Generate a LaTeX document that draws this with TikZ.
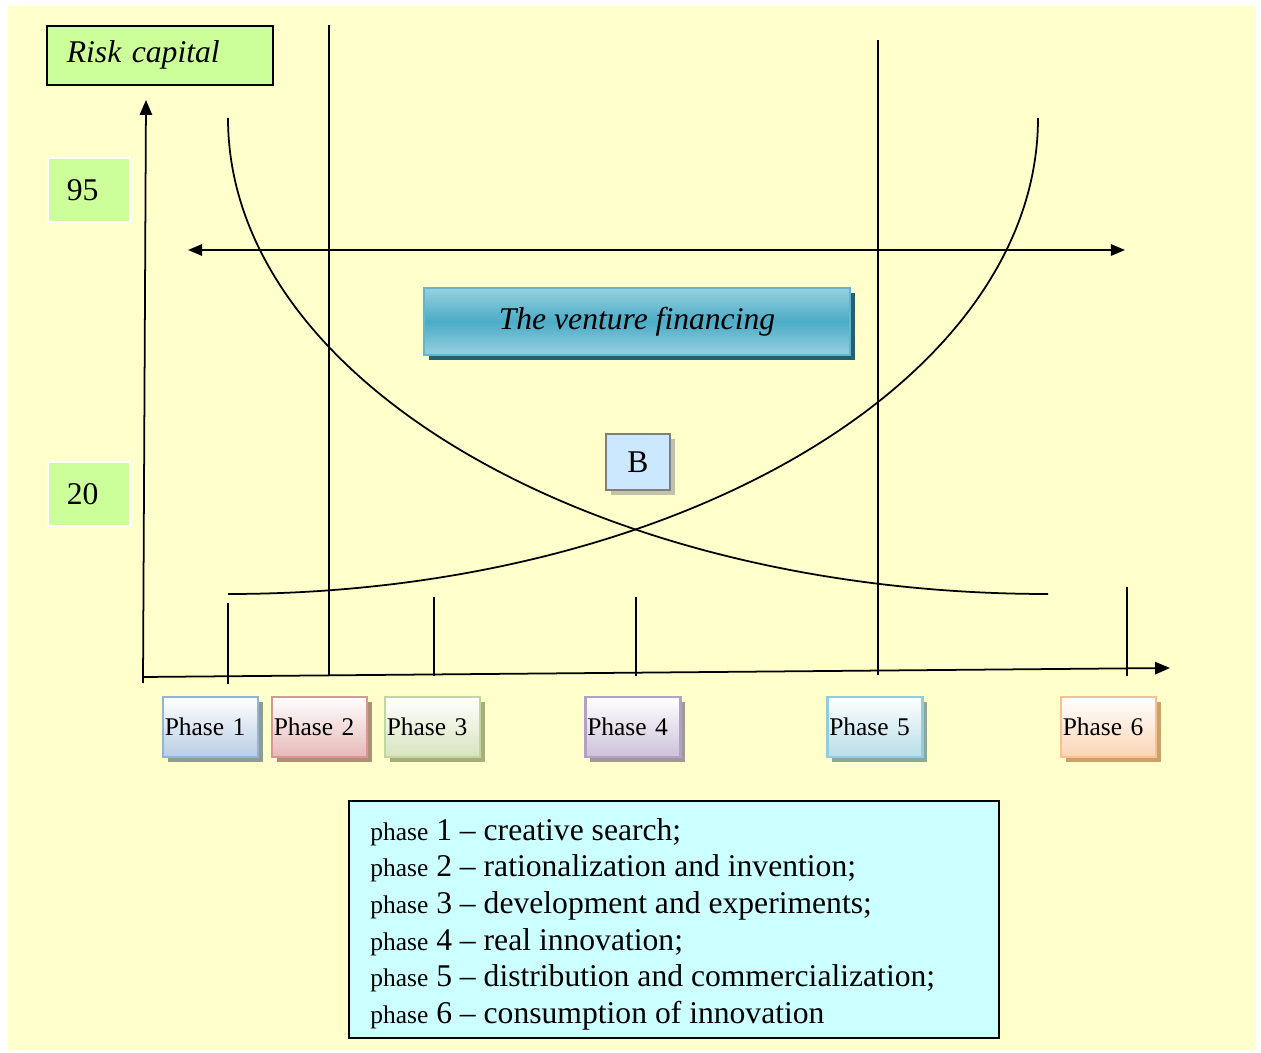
\documentclass[tikz,border=0pt]{standalone}
\usepackage{fontspec}
\setmainfont{Liberation Serif}
\usetikzlibrary{arrows.meta,shadows}
\definecolor{paper}{HTML}{FFFFCC}
\definecolor{lime}{HTML}{CCFF99}
\definecolor{aqua}{HTML}{CCFFFF}
\definecolor{ventlight}{HTML}{98D0DF}
\definecolor{ventdark}{HTML}{4BACC6}
\definecolor{ventedge}{HTML}{5FB8D2}
\definecolor{ventshade}{HTML}{275F6E}
\definecolor{bfill}{HTML}{CCE8FF}
\definecolor{bedge}{HTML}{7F7F7F}
\definecolor{bshade}{HTML}{C2C2A8}
\definecolor{phline1}{HTML}{95B3D7}
\definecolor{phline2}{HTML}{D99694}
\definecolor{phline3}{HTML}{C3D69B}
\definecolor{phline4}{HTML}{B2A1C7}
\definecolor{phline5}{HTML}{93CDDD}
\definecolor{phline6}{HTML}{FAC090}
\definecolor{phfill1}{HTML}{B9CDE5}
\definecolor{phfill2}{HTML}{E6B9B8}
\definecolor{phfill3}{HTML}{D7E4BD}
\definecolor{phfill4}{HTML}{CCC1DA}
\definecolor{phfill5}{HTML}{B7DEE8}
\definecolor{phfill6}{HTML}{FCD5B5}
\definecolor{phshade1}{HTML}{8E9C92}
\definecolor{phshade2}{HTML}{B08E78}
\definecolor{phshade3}{HTML}{A6AE7C}
\definecolor{phshade4}{HTML}{9F9A92}
\definecolor{phshade5}{HTML}{8CA89C}
\definecolor{phshade6}{HTML}{C9A26A}
\newcommand{\bigfont}{\fontsize{18}{20.8}\selectfont}
\newcommand{\phfont}{\fontsize{14.5}{20.8}\selectfont}
\tikzset{
    axisline/.style={black, line width=1pt, -{Triangle[length=8.5pt,width=7pt]}},
    rule/.style={black, line width=1pt},
    hypcurve/.style={black, line width=1pt},
    riskbox/.style={draw=black, line width=1pt, fill=lime, anchor=north west,
        minimum height=1.18cm, inner xsep=0.4cm, text width=3.72cm, align=left,
        font=\bigfont\itshape},
    numbox/.style={draw=white, line width=1pt, fill=lime, anchor=north west,
        minimum height=1.28cm, inner xsep=0.38cm, text width=0.88cm, align=left,
        font=\bigfont},
    ventbox/.style={draw=ventedge, line width=1pt, top color=ventlight,
        bottom color=ventlight, middle color=ventdark,
        minimum width=8.52cm, minimum height=1.34cm, font=\bigfont\itshape,
        drop shadow={fill=ventshade, opacity=1, shadow xshift=2.6pt, shadow yshift=-2.8pt}},
    bbox/.style={draw=bedge, line width=1.5pt, fill=bfill,
        minimum width=1.28cm, minimum height=1.12cm, font=\bigfont,
        drop shadow={fill=bshade, opacity=1, shadow xshift=2.6pt, shadow yshift=-2.8pt}},
    phasebox/.style={line width=1.5pt, top color=white, minimum height=1.2cm,
        inner xsep=1pt, text width=1.83cm, align=left, font=\phfont},
    legendbox/.style={draw=black, line width=1pt, fill=aqua,
        minimum width=13cm, minimum height=4.74cm},
    legendtext/.style={anchor=base west, inner sep=0pt, font=\bigfont}
}

\begin{document}
\begin{tikzpicture}[x=0.02cm, y=-0.02cm]
    \useasboundingbox (0,0) rectangle (1261,1053);
    \fill[paper] (8,6) rectangle (1255,1050);

    \coordinate (origin) at (143,677);
    \coordinate (ytop) at (146,100);
    \coordinate (xend) at (1170,668);
    \coordinate (left) at (188,250);
    \coordinate (right) at (1125,250);

    \draw[axisline] (143,683) -- (ytop);
    \draw[axisline] (origin) -- (xend);
    \draw[axisline, {Triangle[length=8pt,width=6.5pt]}-{Triangle[length=8pt,width=6.5pt]}] (left) -- (right);

    \draw[rule] (329,25) -- (329,675);
    \draw[rule] (878,40) -- (878,675);
    \draw[rule] (228,603) -- (228,684);
    \draw[rule] (434,597) -- (434,676);
    \draw[rule] (636,597) -- (636,676);
    \draw[rule] (1127,587) -- (1127,676);

    \draw[hypcurve] (228,118) arc[start angle=180, end angle=90, x radius=820, y radius=476];
    \draw[hypcurve] (228,594) arc[start angle=90, end angle=0, x radius=810, y radius=476];

    \node (risk) at (46,25) [riskbox] {Risk capital};
    \node (high) at (47,157) [numbox] {95};
    \node (low) at (47,461) [numbox] {20};
    \node (venture) at (637,321.5) [ventbox] {The venture financing};
    \node (b) at (638,462) [bbox] {B};

    \foreach \x [count=\i] in {210.5,319.5,432.5,633,875,1108.5}
        \node (phase\i) at (\x,727) [phasebox, draw=phline\i, bottom color=phfill\i,
            drop shadow={fill=phshade\i, opacity=1, shadow xshift=2.6pt, shadow yshift=-2.8pt}] {Phase \i};

    \node (legend) at (674,919.5) [legendbox] {};
    \foreach \t [count=\i] in {creative search;, rationalization and invention;,
        development and experiments;, real innovation;,
        distribution and commercialization;, consumption of innovation}
        \node (line\i) at (370,{840+36.7*(\i-1)}) [legendtext] {{\phfont phase} \i{} -- \t};
\end{tikzpicture}
\end{document}
